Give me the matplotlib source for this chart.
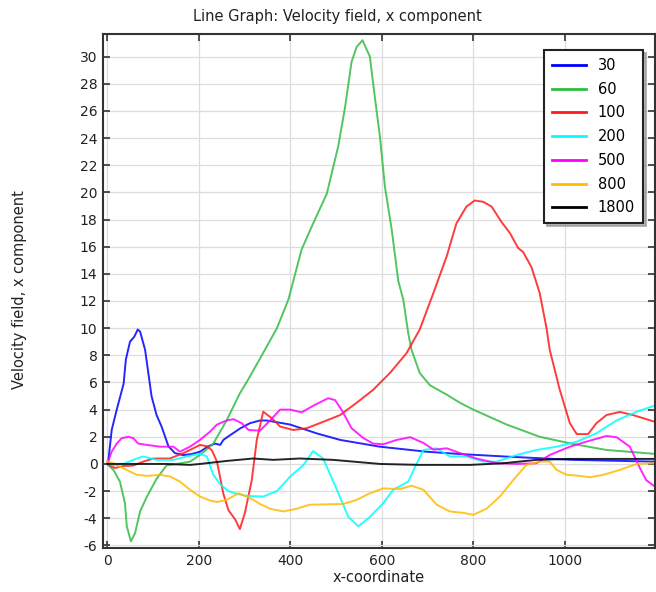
import matplotlib
matplotlib.use("Agg")
import matplotlib.pyplot as plt

plt.rcParams['font.family'] = ['DejaVu Sans']
plt.rcParams['axes.unicode_minus'] = False

# ---- data
x30 = [0, 2, 10, 21, 36, 41, 50, 59, 67, 72, 83, 97, 108, 119, 134, 148, 166, 185, 203, 221, 236, 247,
       254, 268, 290, 312, 334, 349, 400, 458, 509, 596, 698, 771, 873, 1018, 1197]
y30 = [0, 0, 2.5, 4.0, 5.9, 7.7, 9.0, 9.35, 9.9, 9.75, 8.4, 5.0, 3.6, 2.75, 1.3, 0.8, 0.65, 0.73, 0.9, 1.3, 1.5, 1.4,
       1.77, 2.1, 2.6, 3.0, 3.2, 3.2, 2.9, 2.25, 1.77, 1.27, 0.9, 0.73, 0.54, 0.3, 0.17]

x60 = [0, 14, 28, 39, 43, 52, 61, 72, 87, 108, 130, 152, 181, 203, 232, 261, 290, 308, 338, 371, 396, 425,
       450, 480, 505, 520, 534, 545, 558, 574, 585, 596, 607, 622, 636, 647, 658, 665, 683, 705, 742, 771,
       800, 873, 945, 1018, 1091, 1197]
y60 = [0, -0.45, -1.3, -2.9, -4.6, -5.7, -5.1, -3.5, -2.4, -1.1, -0.1, 0.0, 0.17, 0.66, 1.5, 3.2, 5.2, 6.2, 8.0, 10.0, 12.1, 15.8,
       17.7, 19.9, 23.4, 26.3, 29.6, 30.7, 31.2, 30.0, 27.0, 24.1, 20.4, 17.2, 13.5, 12.1, 9.6, 8.4, 6.7, 5.8, 5.1, 4.5,
       4.0, 2.9, 2.0, 1.47, 1.03, 0.74]

x100 = [0, 17, 36, 57, 79, 101, 137, 167, 188, 203, 218, 229, 240, 254, 265, 280, 290, 301, 316, 327, 341,
        360, 378, 407, 436, 472, 509, 545, 581, 618, 654, 683, 713, 742, 763, 785, 803, 822, 840, 862, 880,
        898, 909, 927, 945, 960, 967, 989, 1011, 1026, 1051, 1069, 1091, 1120, 1149, 1197]
y100 = [0, -0.3, -0.15, -0.12, 0.17, 0.4, 0.4, 0.8, 1.15, 1.4, 1.3, 1.0, 0.17, -2.2, -3.4, -4.1, -4.8, -3.6, -1.2, 1.77, 3.85,
        3.36, 2.75, 2.5, 2.63, 3.1, 3.6, 4.5, 5.45, 6.7, 8.15, 9.9, 12.6, 15.3, 17.7, 18.95, 19.4, 19.3, 18.95, 17.8, 17.0,
        15.9, 15.6, 14.5, 12.6, 10.0, 8.4, 5.45, 3.0, 2.2, 2.2, 3.0, 3.6, 3.83, 3.6, 3.1]

x200 = [0, 17, 36, 65, 79, 108, 145, 174, 203, 218, 232, 247, 265, 283, 305, 341, 371, 400, 429, 450, 472,
        502, 527, 549, 574, 603, 625, 658, 673, 691, 720, 749, 785, 822, 851, 895, 938, 982, 1026, 1069,
        1113, 1157, 1197]
y200 = [0, -0.1, 0.0, 0.4, 0.55, 0.3, 0.3, 0.55, 0.75, 0.55, -0.8, -1.5, -2.0, -2.2, -2.35, -2.4, -2.0, -0.93, -0.07, 0.95, 0.4,
        -1.9, -3.9, -4.6, -3.9, -2.9, -1.9, -1.3, -0.2, 1.03, 1.15, 0.55, 0.55, 0.17, 0.17, 0.66, 1.03, 1.27, 1.64, 2.26,
        3.2, 3.85, 4.3]

x500 = [0, 10, 21, 32, 47, 57, 68, 87, 116, 145, 159, 181, 203, 225, 240, 261, 276, 294, 309, 334, 356,
        378, 400, 425, 451, 483, 498, 512, 534, 560, 581, 603, 633, 662, 691, 713, 742, 771, 807, 851, 895,
        938, 967, 1011, 1047, 1091, 1113, 1142, 1164, 1178, 1197]
y500 = [0, 0.9, 1.5, 1.9, 2.0, 1.9, 1.5, 1.4, 1.27, 1.27, 0.9, 1.27, 1.77, 2.38, 2.9, 3.2, 3.3, 3.0, 2.5, 2.45, 3.2,
        4.0, 4.0, 3.8, 4.3, 4.84, 4.7, 4.0, 2.63, 1.9, 1.5, 1.45, 1.77, 1.97, 1.55, 1.05, 1.15, 0.8, 0.4, 0.05, 0.0,
        0.05, 0.66, 1.27, 1.64, 2.06, 1.97, 1.27, -0.3, -1.2, -1.67]

x800 = [0, 17, 43, 65, 87, 116, 138, 159, 181, 203, 225, 240, 261, 287, 312, 334, 356, 385, 414, 443, 487,
        516, 545, 574, 603, 640, 665, 691, 720, 749, 778, 800, 829, 858, 887, 916, 945, 967, 982, 1004, 1033,
        1055, 1084, 1120, 1157, 1197]
y800 = [0.2, 0.0, -0.45, -0.8, -0.88, -0.8, -0.93, -1.3, -1.9, -2.4, -2.7, -2.8, -2.65, -2.16, -2.5, -2.95, -3.3, -3.5, -3.3, -3.0, -2.97,
        -2.95, -2.65, -2.16, -1.8, -1.85, -1.6, -1.9, -3.0, -3.5, -3.6, -3.75, -3.3, -2.4, -1.2, -0.07, 0.17, 0.17, -0.44, -0.8, -0.88,
        -0.98, -0.8, -0.44, 0.0, 0.05]

x1800 = [0, 57, 130, 181, 203, 261, 319, 363, 421, 494, 545, 596, 683, 793, 865, 938, 1011, 1197]
y1800 = [0, 0, 0, -0.07, 0, 0.22, 0.4, 0.3, 0.4, 0.3, 0.15, 0.0, -0.07, -0.07, 0.05, 0.3, 0.37, 0.37]

labels = ['30', '60', '100', '200', '500', '800', '1800']
colors = ['#0000ff', '#33bb44', '#ff1a1a', '#00ffff', '#ff00ff', '#ffbb00', '#000000']
series = [(x30, y30), (x60, y60), (x100, y100), (x200, y200),
          (x500, y500), (x800, y800), (x1800, y1800)]

fig = plt.figure(figsize=(6.56, 5.92), dpi=100)
ax = fig.add_axes([103/656, 1 - 548/592, 552/656, 514/592])

for (xs, ys), lab, col in zip(series, labels, colors):
    ax.plot(xs, ys, color=col, lw=1.4, label=lab, alpha=0.85)

ax.set_xlim(-9, 1197)
ax.set_ylim(-6.19, 31.66)
ax.set_xticks(range(0, 1001, 200))
ax.set_yticks(range(-6, 31, 2))
ax.grid(True, color='#dddddd', lw=0.9)
ax.set_axisbelow(True)
ax.tick_params(direction='in', top=True, right=True, length=5, width=1.2,
               labelsize=10, colors='#333333', labelcolor='#222222', pad=4)
for s in ax.spines.values():
    s.set_color('#333333')
    s.set_linewidth(1.5)

ax.set_xlabel('x-coordinate', fontsize=10.5, labelpad=2, color='#222222')
fig.text(20/656, 1 - 290/592, 'Velocity field, x component', rotation=90,
         ha='center', va='center', fontsize=10.5, color='#222222')
fig.text(337/656, 1 - 16/592, 'Line Graph: Velocity field, x component',
         ha='center', va='center', fontsize=10.5, color='#222222')

leg = ax.legend(loc='upper right', bbox_to_anchor=(0.978, 0.969), borderaxespad=0,
                fontsize=10.5, handlelength=2.3, labelspacing=0.6, fancybox=False,
                shadow={'color': '#999999', 'alpha': 0.7}, framealpha=1, borderpad=0.55)
leg.get_frame().set_edgecolor('#222222')
leg.get_frame().set_linewidth(1.5)
for h in leg.get_lines():
    h.set_linewidth(2)
    h.set_alpha(1)

fig.savefig('out.png', dpi=100)
